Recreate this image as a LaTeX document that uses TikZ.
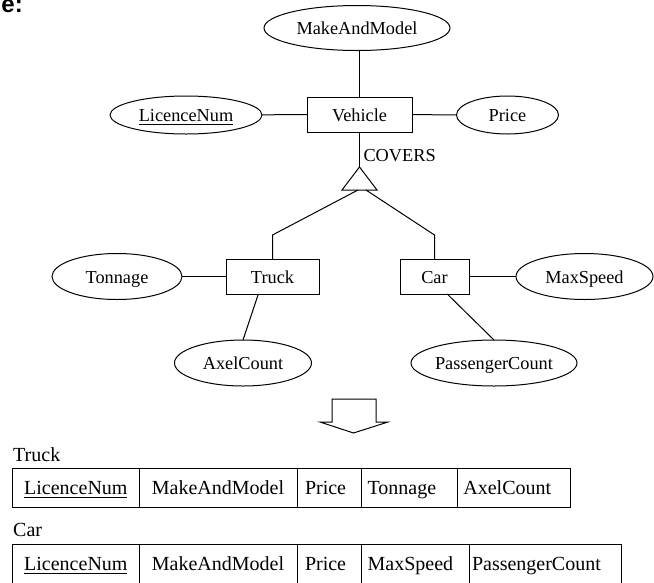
\documentclass[tikz,border=0pt]{standalone}
\usepackage{fontspec}
\setmainfont{Liberation Serif}
\newfontfamily\headfont{Liberation Sans}
\usetikzlibrary{shapes.geometric}
% font sizes for the ER diagram and for the relation tables
\newcommand\diagfont{\fontsize{18.3pt}{22pt}\selectfont}
\newcommand\tabfont{\fontsize{20pt}{24pt}\selectfont}
% key attribute: text with a rule underneath
\newcommand\keyattr[1]{\setbox0\hbox{#1}\rlap{\rule[-3.5pt]{\wd0}{1.1pt}}\box0}
% zero-width centred label so ellipse size comes from minimum width/height only
\newcommand\ctr[1]{\makebox[0pt]{#1}}
\begin{document}
\begin{tikzpicture}[x=1pt,y=-1pt,line width=1pt,
  ent/.style={draw,rectangle,minimum height=35pt,inner sep=0pt,outer sep=0pt,
    text height=13pt,text depth=0pt,font=\diagfont},
  attr/.style={draw,ellipse,inner sep=0pt,outer sep=0pt,
    text height=13pt,text depth=0pt,font=\diagfont},
  cell/.style 2 args={draw,rectangle,anchor=west,minimum height=39pt,
    inner ysep=0pt,inner xsep=#2,text width=#1,align=left,
    text height=14pt,text depth=0pt,outer sep=0pt,font=\tabfont},
  plain/.style={inner sep=0pt,font=\tabfont}]
\useasboundingbox (0,0) rectangle (654,582);

% heading fragment
\node[anchor=base west,inner sep=0pt,font={\headfont\bfseries\fontsize{24pt}{24pt}\selectfont}] (hd) at (1,12) {e:};

% entities
\node[ent,minimum width=105pt] (veh) at (359.5,114.5) {Vehicle};
\node[ent,minimum width=93pt] (truck) at (272.5,276.5) {Truck};
\node[ent,minimum width=69pt] (car) at (434.5,276.5) {Car};

% attributes
\node[attr,minimum width=186pt,minimum height=45pt] (mm) at (357,28) {\ctr{MakeAndModel}};
\node[attr,minimum width=152pt,minimum height=38pt] (lic) at (186,115) {\ctr{\keyattr{LicenceNum}}};
\node[attr,minimum width=102pt,minimum height=38pt] (price) at (507.5,115) {\ctr{Price}};
\node[attr,minimum width=130pt,minimum height=46pt] (ton) at (117,276.5) {\ctr{Tonnage}};
\node[attr,minimum width=137pt,minimum height=46pt] (maxs) at (584.5,276.5) {\ctr{MaxSpeed}};
\node[attr,minimum width=137pt,minimum height=46pt] (axel) at (243,363) {\ctr{AxelCount}};
\node[attr,minimum width=166pt,minimum height=46pt] (pass) at (494,363) {\ctr{PassengerCount}};

% attribute links
\draw (veh.north) -- (veh.north |- mm.south);
\draw (lic) -- (veh);
\draw (veh) -- (price);
\draw (ton) -- (truck);
\draw (car) -- (maxs);
\draw (truck.-129.6) -- (axel.north);
\draw (car.-54.5) -- (pass.north);

% specialisation triangle
\node[anchor=west,inner sep=0pt,font=\diagfont] (cov) at (363,155.5) {COVERS};
\coordinate (apex) at (359.5,167);
\coordinate (bl) at (342,190);
\coordinate (br) at (377,190);
\draw (apex) -- (bl) -- (br) -- cycle;
\draw (veh.south) -- (apex);
\coordinate (ls) at (358,190);
\coordinate (rs) at (366,190);
\coordinate (lvl) at (0,235);
\draw (ls) -- (truck.north |- lvl) -- (truck.north);
\draw (rs) -- (car.north |- lvl) -- (car.north);

% mapping arrow
\draw[line join=miter] (332,399) -- (376,399) -- (376,422) -- (388,422)
  -- (353.5,433) -- (320,422) -- (332,422) -- cycle;

% relation Truck
\node[plain,anchor=west] (tlab) at (12.7,455) {Truck};
\node[cell={103.3pt}{11.5pt}] (t1) at (12.7,487.5) {\keyattr{LicenceNum}};
\node[cell={132.2pt}{12.9pt}] (t2) at (t1.east) {MakeAndModel};
\node[cell={48pt}{8pt}] (t3) at (t2.east) {Price};
\node[cell={83.2pt}{6.6pt}] (t4) at (t3.east) {Tonnage};
\node[cell={101.5pt}{6pt}] (t5) at (t4.east) {AxelCount};

% relation Car
\node[plain,anchor=west] (clab) at (12.7,530) {Car};
\node[cell={103.3pt}{11.5pt}] (c1) at (12.7,563.5) {\keyattr{LicenceNum}};
\node[cell={132.2pt}{12.9pt}] (c2) at (c1.east) {MakeAndModel};
\node[cell={48pt}{8pt}] (c3) at (c2.east) {Price};
\node[cell={94.8pt}{6.6pt}] (c4) at (c3.east) {MaxSpeed};
\node[cell={146pt}{3pt}] (c5) at (c4.east) {PassengerCount};
\end{tikzpicture}
\end{document}
